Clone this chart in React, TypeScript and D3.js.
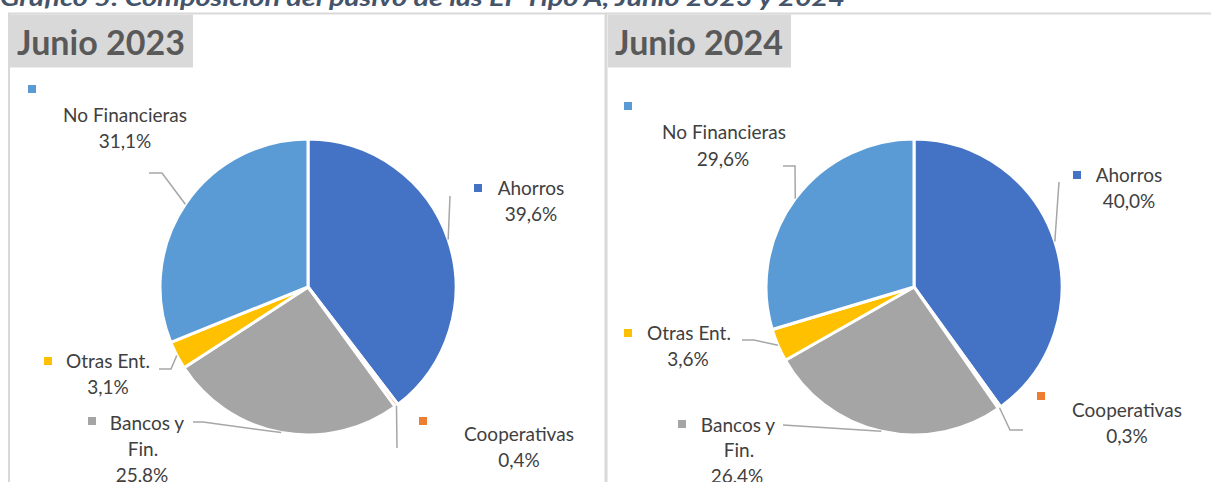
import * as d3 from 'd3';

const categories = ['Ahorros', 'Cooperativas', 'Bancos y Fin.', 'Otras Ent.', 'No Financieras'];
const values2023 = [39.6, 0.4, 25.8, 3.1, 31.1];
const values2024 = [40.0, 0.3, 26.4, 3.6, 29.6];
const sliceColors = ['#4472C4', '#ED7D31', '#A5A5A5', '#FFC000', '#5B9BD5'];
const panelTitles = ['Junio 2023', 'Junio 2024'];

// label text lines per category (the value line is appended from the data)
const labelLines = [['Ahorros'], ['Cooperativas'], ['Bancos y', 'Fin.'], ['Otras Ent.'], ['', 'No Financieras']];

interface LabelLayout {
  marker: [number, number];
  lines: [number, number][]; // center x, baseline
  anchor: number[][]; // leader points from label to slice
}

// layout relative to page
const layouts: { cx: number; cy: number; labels: LabelLayout[] }[] = [
  {
    cx: 308, cy: 287,
    labels: [
      { marker: [478, 188], lines: [[531, 195], [531, 221]], anchor: [[450, 196]] },
      { marker: [423, 421], lines: [[519, 441], [519, 467]], anchor: [[397, 448]] },
      { marker: [92, 421], lines: [[147, 430], [143, 456], [142, 482]], anchor: [[193, 422], [203, 422]] },
      { marker: [48, 361], lines: [[108, 368], [108, 394]], anchor: [[159, 369], [171, 369]] },
      { marker: [32, 89], lines: [[0, 0], [125, 122], [125, 148]], anchor: [[149, 173], [162, 173]] },
    ],
  },
  {
    cx: 914, cy: 287,
    labels: [
      { marker: [1077, 175], lines: [[1129, 182], [1129, 208]], anchor: [[1059, 182]] },
      { marker: [1041, 396], lines: [[1127, 417], [1127, 443]], anchor: [[1023, 430], [1010, 430]] },
      { marker: [682, 424], lines: [[738, 432], [739, 457], [737, 483]], anchor: [[783, 425]] },
      { marker: [628, 333], lines: [[689, 340], [688, 366]], anchor: [[742, 340], [754, 340]] },
      { marker: [628, 106], lines: [[0, 0], [724, 139], [723, 166]], anchor: [[783, 166], [795, 166]] },
    ],
  },
];

const R = 148;
const fmt = (v: number) => v.toFixed(1).replace('.', ',') + '%';

function PiePanel({ values, layout }: { values: number[]; layout: typeof layouts[0] }) {
  const pie = d3.pie<number>().sort(null).value(d => d);
  const arcs = pie(values);
  const arc = d3.arc<d3.PieArcDatum<number>>().innerRadius(0).outerRadius(R);
  const { cx, cy } = layout;

  return (
    <g>
      <g transform={`translate(${cx},${cy})`}>
        {arcs.map((a, i) => (
          <path key={i} d={arc(a) || ''} fill={sliceColors[i]} stroke="#fff" strokeWidth={3} strokeLinejoin="round" />
        ))}
      </g>
      {arcs.map((a, i) => {
        const lab = layout.labels[i];
        const mid = (a.startAngle + a.endAngle) / 2;
        const ex = cx + R * Math.sin(mid);
        const ey = cy - R * Math.cos(mid);
        const pts = [...lab.anchor, [ex, ey]];
        const lines = [...labelLines[i], fmt(values[i])];
        return (
          <g key={i}>
            <polyline points={pts.map(p => p.join(',')).join(' ')} fill="none" stroke="#A6A6A6" strokeWidth={1.5} />
            <rect x={lab.marker[0] - 4} y={lab.marker[1] - 4} width={8} height={8} fill={sliceColors[i]} />
            {lines.map((t, j) => t ? (
              <text key={j} x={lab.lines[j][0]} y={lab.lines[j][1]} textAnchor="middle" fontSize={19} fill="#404040">{t}</text>
            ) : null)}
          </g>
        );
      })}
    </g>
  );
}

export default function App() {
  return (
    <svg width={1211} height={482} style={{ position: 'absolute', left: 0, top: 0, background: '#fff' }} fontFamily="Lato, 'Noto Sans', sans-serif">
      <rect x={0} y={0} width={1211} height={482} fill="#fff" />
      <text x={0} y={6} fontSize={23} fontWeight="bold" fontStyle="italic" fill="#44546A" textLength={845} lengthAdjust="spacingAndGlyphs">
        Gráfico 5: Composición del pasivo de las EF Tipo A, Junio 2023 y 2024
      </text>
      {/* frame */}
      <line x1={8} x2={1211} y1={13.5} y2={13.5} stroke="#D9D9D9" strokeWidth={2} />
      <line x1={9} x2={9} y1={13} y2={482} stroke="#D9D9D9" strokeWidth={2} />
      <line x1={606} x2={606} y1={13} y2={482} stroke="#D9D9D9" strokeWidth={3} />
      {panelTitles.map((t, i) => {
        const x0 = i === 0 ? 10 : 608;
        return (
          <g key={t}>
            <rect x={x0} y={14.5} width={183} height={53} fill="#D9D9D9" />
            <text x={x0 + 7} y={55} fontSize={35} fontWeight="bold" fill="#595959" textLength={168} lengthAdjust="spacingAndGlyphs">{t}</text>
          </g>
        );
      })}
      <PiePanel values={values2023} layout={layouts[0]} />
      <PiePanel values={values2024} layout={layouts[1]} />
    </svg>
  );
}
